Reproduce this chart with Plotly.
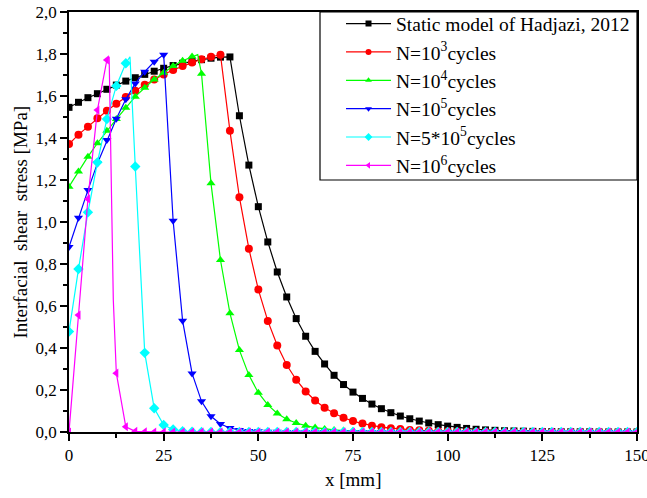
import plotly.graph_objects as go

# x positions of the plotted markers [mm]
x_mm = [0, 2.5, 5, 7.5, 10, 12.5, 15, 17.5, 20, 22.5, 25, 27.5, 30, 32.5, 35, 37.5, 40,
        42.5, 45, 47.5, 50, 52.5, 55, 57.5, 60, 62.5, 65, 67.5, 70, 72.5, 75, 77.5, 80,
        82.5, 85, 87.5, 90, 92.5, 95, 97.5, 100, 102.5, 105, 107.5, 110, 112.5, 115,
        117.5, 120, 122.5, 125, 127.5, 130, 132.5, 135, 137.5, 140, 142.5, 145, 147.5, 150]

static_hadjazi = [1.546, 1.570, 1.592, 1.611, 1.632, 1.652, 1.671, 1.687, 1.703, 1.718,
                  1.732, 1.745, 1.756, 1.765, 1.773, 1.780, 1.785, 1.786, 1.506, 1.271,
                  1.073, 0.905, 0.762, 0.643, 0.540, 0.456, 0.384, 0.324, 0.270, 0.226,
                  0.190, 0.160, 0.133, 0.111, 0.092, 0.076, 0.063, 0.052, 0.043, 0.035,
                  0.028, 0.022, 0.017, 0.013, 0.010, 0.008, 0.006, 0.005, 0.004, 0.003,
                  0.002, 0.002, 0.001, 0.001, 0.001, 0.001, 0, 0, 0, 0, 0]

n_1e3 = [1.371, 1.416, 1.454, 1.494, 1.530, 1.563, 1.595, 1.625, 1.654, 1.679,
         1.702, 1.724, 1.743, 1.759, 1.775, 1.787, 1.797, 1.434, 1.118, 0.873,
         0.678, 0.529, 0.412, 0.319, 0.249, 0.193, 0.150, 0.116, 0.089, 0.068,
         0.052, 0.040, 0.030, 0.023, 0.018, 0.014, 0.010, 0.008, 0.006, 0.004,
         0.003, 0.002, 0.002, 0.001, 0.001, 0, 0, 0, 0, 0,
         0, 0, 0, 0, 0, 0, 0, 0, 0, 0, 0]

n_1e4 = [1.168, 1.240, 1.311, 1.375, 1.435, 1.490, 1.544, 1.597, 1.639, 1.679,
         1.711, 1.743, 1.768, 1.788, 1.706, 1.184, 0.819, 0.566, 0.390, 0.271,
         0.187, 0.129, 0.088, 0.061, 0.043, 0.030, 0.021, 0.014, 0.010, 0.007,
         0.005, 0.003, 0.002, 0.002, 0.001, 0.001, 0, 0, 0, 0,
         0, 0, 0, 0, 0, 0, 0, 0, 0, 0,
         0, 0, 0, 0, 0, 0, 0, 0, 0, 0, 0]

n_1e5 = [0.881, 1.020, 1.152, 1.279, 1.390, 1.492, 1.584, 1.660, 1.716, 1.763,
         1.797, 1.006, 0.530, 0.279, 0.146, 0.075, 0.038, 0.019, 0.010, 0.005,
         0.003, 0.001, 0.001, 0, 0, 0, 0, 0, 0, 0,
         0, 0, 0, 0, 0, 0, 0, 0, 0, 0,
         0, 0, 0, 0, 0, 0, 0, 0, 0, 0,
         0, 0, 0, 0, 0, 0, 0, 0, 0, 0, 0]

n_5e5 = [0.478, 0.776, 1.046, 1.284, 1.490, 1.648, 1.756, 1.264, 0.377, 0.113,
         0.033, 0.012, 0.004, 0.001, 0, 0, 0, 0, 0, 0,
         0, 0, 0, 0, 0, 0, 0, 0, 0, 0,
         0, 0, 0, 0, 0, 0, 0, 0, 0, 0,
         0, 0, 0, 0, 0, 0, 0, 0, 0, 0,
         0, 0, 0, 0, 0, 0, 0, 0, 0, 0, 0]

n_1e6 = [0.0, 0.557, 1.110, 1.533, 1.772, 0.280, 0.025, 0.003, 0.001, 0,
         0, 0, 0, 0, 0, 0, 0, 0, 0, 0,
         0, 0, 0, 0, 0, 0, 0, 0, 0, 0,
         0, 0, 0, 0, 0, 0, 0, 0, 0, 0,
         0, 0, 0, 0, 0, 0, 0, 0, 0, 0,
         0, 0, 0, 0, 0, 0, 0, 0, 0, 0, 0]

# extra points (peaks between markers)
peak_1e4_x, peak_1e4_y = [34.0], [1.797]
peak_5e5_x, peak_5e5_y = [16.1], [1.787]
peak_1e6_x, peak_1e6_y = [10.6, 11.2, 11.7], [1.787, 1.20, 0.63]

series_names = ["Static model of Hadjazi, 2012",
                "N=10<sup>3</sup>cycles",
                "N=10<sup>4</sup>cycles",
                "N=10<sup>5</sup>cycles",
                "N=5*10<sup>5</sup>cycles",
                "N=10<sup>6</sup>cycles"]
series_values = [static_hadjazi, n_1e3, n_1e4, n_1e5, n_5e5, n_1e6]
series_extra = [([], []), ([], []), (peak_1e4_x, peak_1e4_y), ([], []),
                (peak_5e5_x, peak_5e5_y), (peak_1e6_x, peak_1e6_y)]
colors = ["#000000", "#FF0000", "#00FF00", "#0000FF", "#00FFFF", "#FF00FF"]
symbols = ["square", "circle", "triangle-up", "triangle-down", "diamond", "triangle-left"]
msizes = [7, 8, 8, 8, 8, 8]

x_ticks = [0, 25, 50, 75, 100, 125, 150]
x_minor = [12.5, 37.5, 62.5, 87.5, 112.5, 137.5]

FONT = "Liberation Serif, Times New Roman, serif"

fig = go.Figure()
for i, (name, vals, (ex, ey), col, sym, ms) in enumerate(
        zip(series_names, series_values, series_extra, colors, symbols, msizes)):
    pts = sorted(list(zip(x_mm, vals)) + list(zip(ex, ey)))
    lx = [p[0] for p in pts]
    ly = [p[1] for p in pts]
    fig.add_trace(go.Scatter(x=lx, y=ly, mode="lines", line=dict(color=col, width=1.2),
                             showlegend=False, hoverinfo="skip"))
    fig.add_trace(go.Scatter(x=x_mm, y=vals, mode="markers", showlegend=False,
                             marker=dict(symbol=sym, size=ms, color=col, line=dict(width=0))))
    fig.add_trace(go.Scatter(x=[None], y=[None], mode="lines+markers", name=name,
                             legendgroup=f"g{i}",
                             line=dict(color=col, width=1.2),
                             marker=dict(symbol=sym, size=6, color=col, line=dict(width=0))))

axis_common = dict(
    showline=True, linecolor="black", linewidth=1.5, mirror=True,
    ticks="outside", ticklen=7, tickwidth=1.5, tickcolor="black",
    showgrid=False, zeroline=False, automargin=False,
    ticklabeloverflow="allow",
    tickfont=dict(family=FONT, size=17, color="black"),
)

fig.update_xaxes(range=[0, 150], tickvals=x_ticks,
                 minor=dict(ticks="outside", ticklen=4, tickwidth=1.5, tickcolor="black",
                            tickvals=x_minor),
                 **axis_common)
fig.update_yaxes(range=[0, 2.0], dtick=0.2, tickformat=".1f",
                 minor=dict(ticks="outside", ticklen=4, tickwidth=1.5, tickcolor="black",
                            dtick=0.1),
                 **axis_common)

fig.add_annotation(text="x [mm]", xref="paper", yref="paper", x=0.5, y=-0.112,
                   xanchor="center", yanchor="middle", showarrow=False,
                   font=dict(family=FONT, size=19, color="black"))
fig.add_annotation(text="Interfacial&nbsp; shear&nbsp; stress [MPa]", xref="paper",
                   yref="paper", x=-0.0854, y=0.5, textangle=-90,
                   xanchor="center", yanchor="middle", showarrow=False,
                   font=dict(family=FONT, size=19, color="black"))

# legend frame (drawn as a shape so that it sits flush with the plot frame)
fig.add_shape(type="rect", xref="paper", yref="paper", x0=0.4419, x1=1.0, y0=0.6, y1=1.0,
              line=dict(color="black", width=1.2), fillcolor="rgba(0,0,0,0)", layer="above")

fig.update_layout(
    width=647, height=498,
    margin=dict(l=69, r=10, t=12, b=66, autoexpand=False),
    paper_bgcolor="white", plot_bgcolor="white",
    separators=", ",
    font=dict(family=FONT, size=17, color="black"),
    legend=dict(x=0.4789, y=1.018, xanchor="left", yanchor="top",
                borderwidth=0, bgcolor="rgba(0,0,0,0)",
                font=dict(family=FONT, size=19.5, color="black"),
                tracegroupgap=0, itemwidth=45, indentation=0, traceorder="grouped"),
)

fig.write_html("out.html", config={"displayModeBar": False})
